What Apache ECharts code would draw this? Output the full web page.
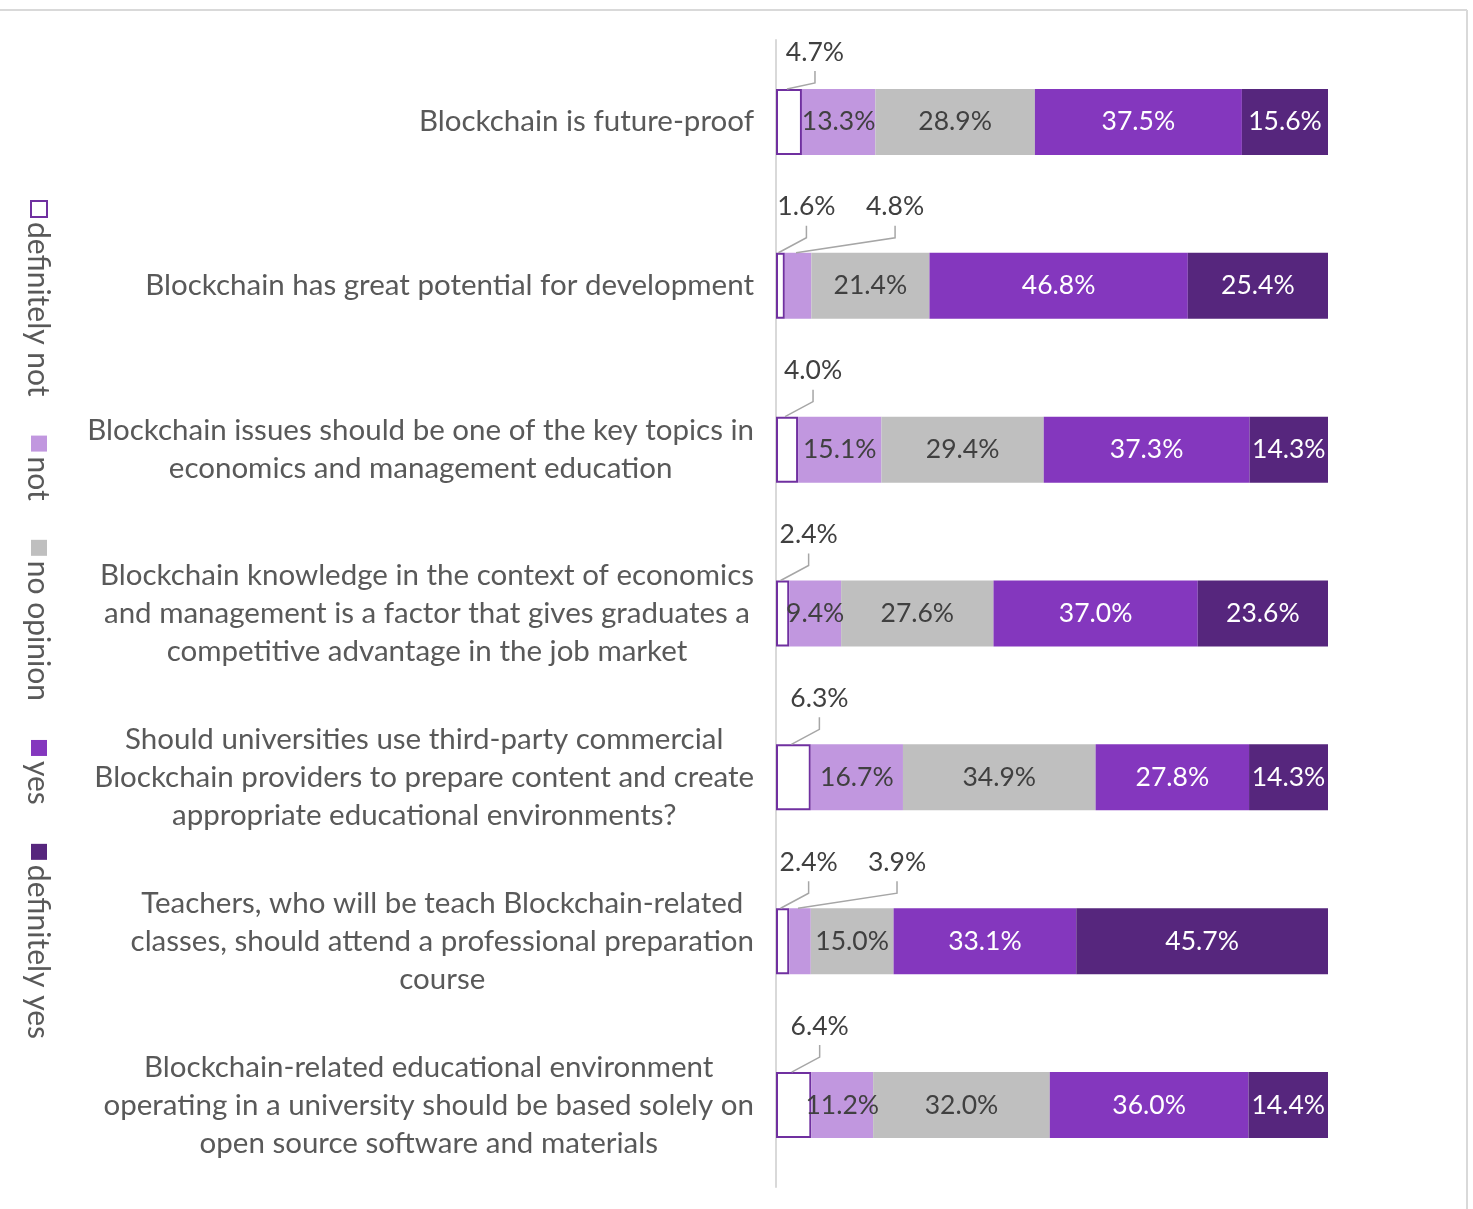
<!DOCTYPE html>
<html>
<head>
<meta charset="utf-8">
<style>
  html, body { margin: 0; padding: 0; background: #fff; }
  #chart { width: 1473px; height: 1209px; }
</style>
<script src="https://cdn.jsdelivr.net/npm/echarts@6/dist/echarts.min.js"></script>
</head>
<body>
<div id="chart"></div>
<script>
const categories = [
  'Blockchain is future-proof',
  'Blockchain has great potential for development',
  'Blockchain issues should be one of the key topics in\neconomics and management education',
  'Blockchain knowledge in the context of economics\nand management is a factor that gives graduates a\ncompetitive advantage in the job market',
  'Should universities use third-party commercial\nBlockchain providers to prepare content and create\nappropriate educational environments?',
  'Teachers, who will be teach Blockchain-related\nclasses, should attend a professional preparation\ncourse',
  'Blockchain-related educational environment\noperating in a university should be based solely on\nopen source software and materials'
];
const seriesNames = ['definitely not', 'not', 'no opinion', 'yes', 'definitely yes'];
const definitelyNot = [4.7, 1.6, 4.0, 2.4, 6.3, 2.4, 6.4];
const notValues = [13.3, 4.8, 15.1, 9.4, 16.7, 3.9, 11.2];
const noOpinion = [28.9, 21.4, 29.4, 27.6, 34.9, 15.0, 32.0];
const yesValues = [37.5, 46.8, 37.3, 37.0, 27.8, 33.1, 36.0];
const definitelyYes = [15.6, 25.4, 14.3, 23.6, 14.3, 45.7, 14.4];

const FONT = 'Lato';
const BAR_W = 66;
const colors = ['#ffffff', '#c197df', '#bfbfbf', '#8437be', '#56267d'];
const labelColors = ['#404040', '#404040', '#404040', '#ffffff', '#ffffff'];
const allValues = [definitelyNot, notValues, noOpinion, yesValues, definitelyYes];

// small segments get their label above the bar with a leader line
const isOutside = (si, v) => si === 0 || (si === 1 && v < 5);
const outsideDx = [26, 97];

const chart = echarts.init(document.getElementById('chart'));

const series = allValues.map((vals, si) => ({
  name: seriesNames[si],
  type: 'bar',
  stack: 'total',
  barWidth: BAR_W,
  itemStyle: si === 0
    ? { color: colors[0], borderColor: '#7030a0', borderWidth: 2 }
    : { color: colors[si] },
  label: {
    show: true,
    position: 'inside',
    color: labelColors[si],
    fontFamily: FONT,
    fontSize: 26.5,
    formatter: p => isOutside(si, p.value) ? '' : p.value.toFixed(1) + '%'
  },
  data: vals
}));

// callout labels: [segment centre, category index, value, series index]
const callouts = [];
categories.forEach((c, ci) => {
  let acc = 0;
  allValues.forEach((vals, si) => {
    const v = vals[ci];
    if (isOutside(si, v)) callouts.push([acc + v / 2, ci, v, si]);
    acc += v;
  });
});

series.push({
  type: 'custom',
  coordinateSystem: 'cartesian2d',
  silent: true,
  z: 5,
  data: callouts,
  renderItem: function (params, api) {
    const pt = api.coord([api.value(0), api.value(1)]);
    const barTop = pt[1] - BAR_W / 2;
    const lx = pt[0] + outsideDx[api.value(3)];
    const ly = Math.max(barTop - 46, 52);
    return {
      type: 'group',
      children: [
        {
          type: 'polyline',
          shape: { points: [[lx, ly + 19], [lx, ly + 31], [pt[0] - 2, barTop]] },
          style: { stroke: '#a6a6a6', lineWidth: 1.5, fill: null }
        },
        {
          type: 'text',
          style: {
            x: lx, y: ly,
            text: api.value(2).toFixed(1) + '%',
            fill: '#404040',
            font: '26.5px ' + FONT,
            align: 'center',
            verticalAlign: 'middle'
          }
        }
      ]
    };
  }
});

// legend drawn vertically with rotated text
const measure = document.createElement('canvas').getContext('2d');
measure.font = '30px ' + FONT;
const legendGraphics = [];
let ly = 201;
seriesNames.forEach((name, i) => {
  legendGraphics.push({
    type: 'rect',
    shape: { x: 31, y: ly, width: 16, height: 16 },
    style: i === 0
      ? { fill: '#fff', stroke: '#7030a0', lineWidth: 2 }
      : { fill: colors[i] }
  });
  ly += 21;
  legendGraphics.push({
    type: 'text',
    x: 38,
    y: ly,
    rotation: -Math.PI / 2,
    style: {
      text: name,
      fill: '#595959',
      font: '30px ' + FONT,
      align: 'left',
      verticalAlign: 'middle'
    }
  });
  ly += measure.measureText(name).width + 39;
});

const option = {
  backgroundColor: '#fff',
  animation: false,
  grid: { left: 776, right: 145, top: 40, bottom: 22 },
  xAxis: {
    type: 'value',
    min: 0,
    max: 100,
    show: false
  },
  yAxis: {
    type: 'category',
    inverse: true,
    data: categories,
    axisLine: { show: true, lineStyle: { color: '#d9d9d9', width: 2 } },
    axisTick: { show: false },
    axisLabel: {
      interval: 0,
      margin: 22,
      formatter: v => v.split('\n').map(l => '{c|' + l + '}').join('\n'),
      rich: {
        c: { align: 'center', color: '#595959', fontFamily: FONT, fontSize: 29.5, lineHeight: 38 }
      }
    }
  },
  graphic: [
    { type: 'line', shape: { x1: 0, y1: 10, x2: 1467, y2: 10 }, style: { stroke: '#d9d9d9', lineWidth: 2 } },
    { type: 'line', shape: { x1: 1467, y1: 10, x2: 1467, y2: 1209 }, style: { stroke: '#d9d9d9', lineWidth: 2 } }
  ].concat(legendGraphics),
  series: series
};

chart.setOption(option);
</script>
</body>
</html>
